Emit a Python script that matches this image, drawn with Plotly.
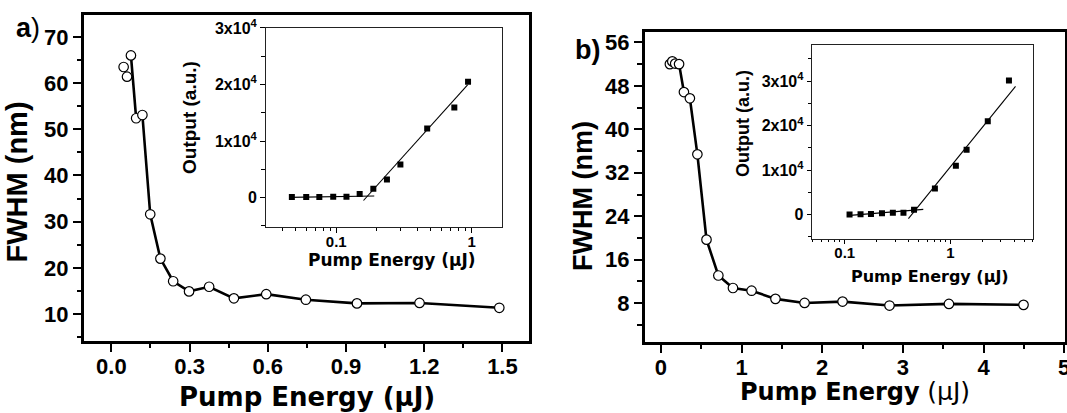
import plotly.graph_objects as go

W, H = 1067, 413

# ---- panel a: linewidth vs pump energy ----
energy_a = [0.047, 0.060, 0.075, 0.095, 0.119, 0.149, 0.188, 0.237, 0.298, 0.375,
            0.470, 0.594, 0.746, 0.942, 1.182, 1.488]
fwhm_a = [63.5, 61.4, 66.0, 52.4, 53.1, 31.6, 22.0, 17.1, 14.9, 15.9,
          13.4, 14.3, 13.1, 12.3, 12.4, 11.35]
line_start_a = 2  # connecting line begins at the third point

# inset a: output intensity vs pump energy (log x)
inset_energy_a = [0.047, 0.060, 0.075, 0.095, 0.119, 0.149, 0.188, 0.237, 0.298,
                  0.470, 0.746, 0.942]
output_a = [120, 120, 120, 175, 175, 650, 1580, 3210, 5840, 12230, 15930, 20470]
fit_low_a_x = [0.045, 0.191]
fit_low_a_y = [50, 300]
fit_high_a_x = [0.159, 0.935]
fit_high_a_y = [-500, 19950]

# ---- panel b ----
energy_b = [0.111, 0.141, 0.177, 0.225, 0.285, 0.359, 0.452, 0.565, 0.712, 0.893,
            1.124, 1.420, 1.781, 2.252, 2.834, 3.571, 4.496]
fwhm_b = [52.0, 52.5, 52.1, 52.0, 46.85, 45.7, 35.4, 19.7, 13.1, 10.8,
          10.3, 8.8, 8.05, 8.3, 7.57, 7.87, 7.7]
line_start_b = 3

inset_energy_b = [0.111, 0.141, 0.177, 0.225, 0.285, 0.359, 0.452, 0.712, 1.124,
                  1.420, 2.252, 3.571]
output_b = [60, 100, 150, 300, 450, 450, 1120, 5880, 11010, 14580, 20980, 30130]
fit_low_b_x = [0.105, 0.553]
fit_low_b_y = [-220, 1180]
fit_high_b_x = [0.400, 4.12]
fit_high_b_y = [-890, 28800]

inset_ticks = [0, 10000, 20000, 30000]
inset_ticktext = ["<b>0</b>", "<b>1x10<sup>4</sup></b>", "<b>2x10<sup>4</sup></b>",
                  "<b>3x10<sup>4</sup></b>"]
log_minor = [0.04, 0.05, 0.06, 0.07, 0.08, 0.09, 0.2, 0.3, 0.4, 0.5, 0.6, 0.7, 0.8,
             0.9, 2, 3, 4, 5, 6]

TICK_FONT = "Liberation Sans, Arial, sans-serif"
WIDE_FONT = "DejaVu Sans, sans-serif"


def dx(p0, p1):
    return [p0 / W, p1 / W]


def dy(top, bottom):
    return [1 - bottom / H, 1 - top / H]


fig = go.Figure()

# main curves: line then open circles
fig.add_trace(go.Scatter(x=energy_a[line_start_a:], y=fwhm_a[line_start_a:], mode="lines",
                         line=dict(color="black", width=2.6), xaxis="x", yaxis="y"))
fig.add_trace(go.Scatter(x=energy_a, y=fwhm_a, mode="markers",
                         marker=dict(symbol="circle", size=9.5, color="white",
                                     line=dict(color="black", width=1.2)),
                         xaxis="x", yaxis="y"))
fig.add_trace(go.Scatter(x=energy_b[line_start_b:], y=fwhm_b[line_start_b:], mode="lines",
                         line=dict(color="black", width=2.6), xaxis="x3", yaxis="y3"))
fig.add_trace(go.Scatter(x=energy_b, y=fwhm_b, mode="markers",
                         marker=dict(symbol="circle", size=9.5, color="white",
                                     line=dict(color="black", width=1.2)),
                         xaxis="x3", yaxis="y3"))

# insets: threshold fit lines and filled squares
for fx, fy, xa, ya in [(fit_low_a_x, fit_low_a_y, "x2", "y2"),
                       (fit_high_a_x, fit_high_a_y, "x2", "y2"),
                       (fit_low_b_x, fit_low_b_y, "x4", "y4"),
                       (fit_high_b_x, fit_high_b_y, "x4", "y4")]:
    fig.add_trace(go.Scatter(x=fx, y=fy, mode="lines", line=dict(color="black", width=1.1),
                             xaxis=xa, yaxis=ya))
fig.add_trace(go.Scatter(x=inset_energy_a, y=output_a, mode="markers",
                         marker=dict(symbol="square", size=6, color="black"),
                         xaxis="x2", yaxis="y2"))
fig.add_trace(go.Scatter(x=inset_energy_b, y=output_b, mode="markers",
                         marker=dict(symbol="square", size=6, color="black"),
                         xaxis="x4", yaxis="y4"))

main_tickfont = dict(family=TICK_FONT, size=22, color="black", weight="bold")
inset_tickfont = dict(family=TICK_FONT, size=16, color="black", weight="bold")
inset_xtickfont = dict(family=TICK_FONT, size=15, color="black", weight="bold")


def main_axis(domain, rng, dtick, minor_dtick, anchor, fmt=None, standoff=0):
    d = dict(domain=domain, range=rng, anchor=anchor, tick0=0, dtick=dtick,
             ticks="outside", ticklen=8, tickwidth=2, tickcolor="black",
             showline=True, linewidth=3, linecolor="black", mirror=True,
             showgrid=False, zeroline=False, tickfont=main_tickfont, automargin=False,
             tickprefix="<b>", ticksuffix="</b>", ticklabeloverflow="allow",
             ticklabelstandoff=standoff,
             minor=dict(tick0=0, dtick=minor_dtick, ticks="outside", ticklen=4.5,
                        tickwidth=2, tickcolor="black", showgrid=False))
    if fmt:
        d["tickformat"] = fmt
    return d


def inset_xaxis(domain, rng, anchor):
    return dict(domain=domain, type="log", range=rng, anchor=anchor, automargin=False,
                tickmode="array", tickvals=[0.1, 1], ticktext=["<b>0.1</b>", "<b>1</b>"],
                ticks="outside", ticklen=4.5, tickwidth=1, tickcolor="black",
                ticklabelstandoff=-4,
                showline=True, linewidth=1.2, linecolor="#222", mirror=True,
                showgrid=False, zeroline=False, tickfont=inset_xtickfont,
                minor=dict(tickmode="array", tickvals=log_minor, ticks="outside",
                           ticklen=2.5, tickwidth=1, tickcolor="black", showgrid=False))


def inset_yaxis(domain, rng, minor_vals, anchor):
    return dict(domain=domain, range=rng, anchor=anchor, automargin=False,
                tickmode="array", tickvals=inset_ticks, ticktext=inset_ticktext,
                ticks="outside", ticklen=4.5, tickwidth=1, tickcolor="black",
                showline=True, linewidth=1.2, linecolor="#222", mirror=True,
                showgrid=False, zeroline=False, tickfont=inset_tickfont,
                minor=dict(tickmode="array", tickvals=minor_vals, ticks="outside",
                           ticklen=3.5, tickwidth=1, tickcolor="black", showgrid=False))


layout = dict(
    width=W, height=H, margin=dict(l=0, r=0, t=0, b=0, autoexpand=False),
    paper_bgcolor="white", plot_bgcolor="white", showlegend=False,
    xaxis=main_axis(dx(84, 528.5), [-0.105, 1.6], 0.3, 0.15, "y", ".1f", standoff=-4),
    yaxis=main_axis(dy(14.8, 340.8), [4.2, 74.8], 10, 5, "x"),
    xaxis2=inset_xaxis(dx(265.6, 502.4), [-1.522, 0.228], "y2"),
    yaxis2=inset_yaxis(dy(27.9, 227.1), [-5200, 30000], [-5000, 5000, 15000, 25000], "x2"),
    xaxis3=main_axis(dx(644.8, 1064.5), [-0.2, 5.004], 1, 0.5, "y3", standoff=-4),
    yaxis3=main_axis(dy(31.5, 341.8), [0.9, 58], 8, 4, "x3"),
    xaxis4=inset_xaxis(dx(812.3, 1033.4), [-1.307, 0.784], "y4"),
    yaxis4=inset_yaxis(dy(44.6, 238.7), [-5400, 38200],
                       [-5000, 5000, 15000, 25000, 35000], "x4"),
)
fig.update_layout(**layout)


def label(text, x, y, size, family, angle=0, xanchor="center", weight="bold"):
    fig.add_annotation(text=text, x=x / W, y=1 - y / H, xref="paper", yref="paper",
                       showarrow=False, textangle=angle, xanchor=xanchor, yanchor="middle",
                       font=dict(family=family, size=size, color="black", weight=weight))


# axis titles
label("Pump Energy (μJ)", 306.5, 396.5, 26, WIDE_FONT)
label("FWHM (nm)", 16.5, 182, 29, TICK_FONT, angle=-90)
label("<b>Pump Energy</b> <span style='font-size:25px'>(μJ)</span>", 854.7, 391, 24,
      WIDE_FONT, weight="normal")
label("FWHM (nm)", 583, 196, 27, TICK_FONT, angle=-90)
label("Pump Energy (μJ)", 392, 259.5, 17, WIDE_FONT)
label("Output (a.u.)", 189, 118, 19, TICK_FONT, angle=-90)
label("Pump Energy (μJ)", 930, 276.5, 16, WIDE_FONT)
label("Output (a.u.)", 743, 124, 18, TICK_FONT, angle=-90)

# panel letters
label("<b>a</b>)", 13.5, 27.6, 27, TICK_FONT, xanchor="left", weight="normal")
label("b)", 573.3, 49.9, 27, TICK_FONT, xanchor="left")

fig.write_html("out.html", config={"displayModeBar": False})
